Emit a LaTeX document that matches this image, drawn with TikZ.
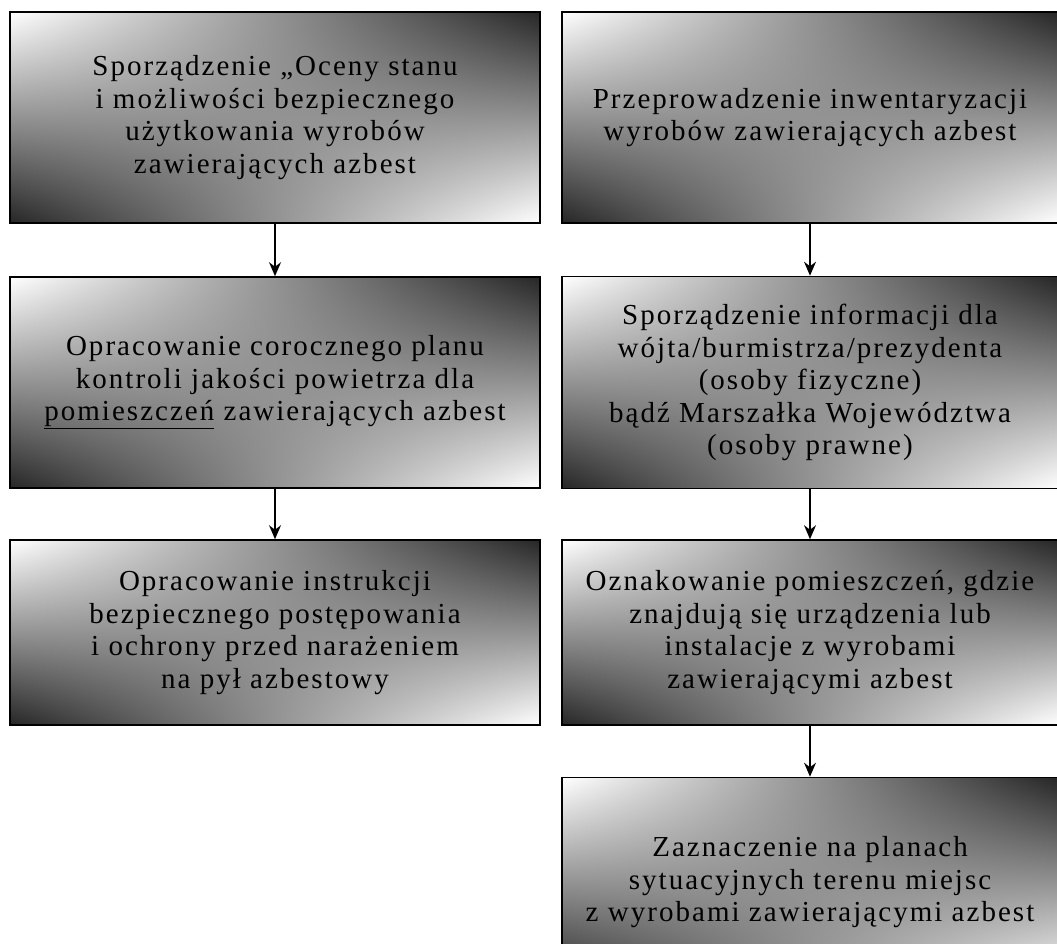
\documentclass[tikz,border=0pt]{standalone}
\usepackage{fontspec}
\setmainfont{Liberation Serif}[LetterSpace=7]
\usepackage{tikz}
\usetikzlibrary{arrows,arrows.meta,shadings}

\begin{document}
\begin{tikzpicture}[x=1pt, y=1pt, node distance=265pt, inner sep=0pt]

    \tikzstyle{krok}=[rectangle, draw=black, line width=1.6pt, upper left=white, upper right=black!85, lower left=black!85, lower right=white, text=black, align=center, font=\fontsize{29}{32.5}\selectfont] \tikzstyle{lewy}=[krok, minimum width=530pt] \tikzstyle{prawy}=[krok, minimum width=496pt] \tikzstyle{strz}=[->, draw=black, >={Stealth[length=14pt,width=12pt]}, line width=1.3pt, shorten >=0pt]

    \useasboundingbox (0,0) rectangle (1057,-944);
    \clip (0,0) rectangle (1057,-944);

    \node[lewy, minimum height=211pt] (L1) at (275,-117.5) {Sporządzenie „Oceny stanu\\ i możliwości bezpiecznego\\ użytkowania wyrobów\\ zawierających azbest};
    \node[lewy, minimum height=211pt] (L2) [below of=L1] {Opracowanie corocznego planu\\ kontroli jakości powietrza dla\\ \underline{pomieszczeń} zawierających azbest};
    \node[lewy, minimum height=185pt, node distance=250pt] (L3) [below of=L2] {Opracowanie instrukcji\\ bezpiecznego postępowania\\ i ochrony przed narażeniem\\ na pył azbestowy};

    \node[prawy, minimum height=211pt] (R1) at (810,-117.5) {Przeprowadzenie inwentaryzacji\\ wyrobów zawierających azbest};
    \node[prawy, minimum height=212pt] (R2) [below of=R1] {Sporządzenie informacji dla\\ wójta/burmistrza/prezydenta\\ (osoby fizyczne)\\ bądź Marszałka Województwa\\ (osoby prawne)};
    \node[prawy, minimum height=185pt, node distance=250pt] (R3) [below of=R2] {Oznakowanie pomieszczeń, gdzie\\ znajdują się urządzenia lub\\ instalacje z wyrobami\\ zawierającymi azbest};
    \node[prawy, minimum height=210pt, node distance=250pt] (R4) [below of=R3] {Zaznaczenie na planach\\ sytuacyjnych terenu miejsc\\ z wyrobami zawierającymi azbest};

    \draw[strz] (L1) to (L2) ;
    \draw[strz] (L2) to (L3) ;
    \draw[strz] (R1) to (R2) ;
    \draw[strz] (R2) to (R3) ;
    \draw[strz] (R3) to (R4) ;
\end{tikzpicture}
\end{document}
